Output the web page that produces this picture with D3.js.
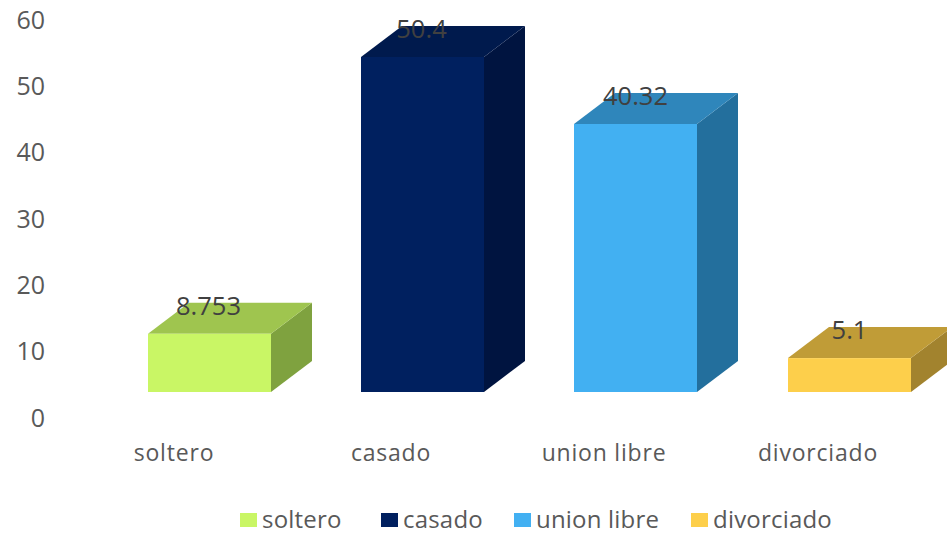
<!DOCTYPE html>
<html><head><meta charset="utf-8"><script src="https://cdn.jsdelivr.net/npm/d3@7/dist/d3.min.js"></script>
<style>html,body{margin:0;background:#fff}svg{display:block}text{font-family:"Open Sans",sans-serif}</style></head>
<body><script>
const categories = ["soltero","casado","union libre","divorciado"];
const values = [8.753,50.4,40.32,5.1];
const labels = ["8.753","50.4","40.32","5.1"];
const yTicks = [0,10,20,30,40,50,60];
const frontColors = ["#c9f665","#00205f","#42b0f2","#fdcf4b"];
const topColors = ["#9fc54f","#001a4d","#2f86bb","#c09c37"];
const sideColors = ["#7fa23f","#001440","#236f9d","#a2832e"];
const W=947,H=535;
const svg=d3.select("body").append("svg").attr("width",W).attr("height",H);
const tickY=d3.scaleLinear().domain([0,60]).range([418,20]);
const barBase=392, barY=d3.scaleLinear().domain([0,50.4]).range([barBase,57]);
const bw=123,dx=41,dy=31;
const xPos=d3.scaleOrdinal().domain(categories).range([148,361,574,788]);
svg.append("g").selectAll("text").data(yTicks).join("text").attr("x",45).attr("y",d=>tickY(d)).attr("dy","0.35em").attr("text-anchor","end").attr("font-size",25).attr("fill","#595959").text(d=>d);
const g=svg.selectAll("g.bar").data(categories).join("g").attr("class","bar");
g.each(function(c,i){
 const s=d3.select(this),l=xPos(c),t=barY(values[i]),r=l+bw;
 s.append("path").attr("d",`M${r},${t}L${r+dx},${t-dy}L${r+dx},${barBase-dy}L${r},${barBase}Z`).attr("fill",sideColors[i]);
 s.append("path").attr("d",`M${l},${t}L${l+dx},${t-dy}L${r+dx},${t-dy}L${r},${t}Z`).attr("fill",topColors[i]);
 s.append("rect").attr("x",l).attr("y",t).attr("width",bw).attr("height",barBase-t).attr("fill",frontColors[i]);
 s.append("text").attr("x",l+bw/2-(i==1?1:0)-(i==0?1:0)).attr("y",t-19).attr("text-anchor","middle").attr("font-size",25.5).attr("fill","#404040").text(labels[i]);
});
const catX=[174,391,604,818];
svg.selectAll("text.cat").data(categories).join("text").attr("class","cat").attr("x",(d,i)=>catX[i]).attr("y",461).attr("text-anchor","middle").attr("font-size",23).attr("letter-spacing",0.8).attr("fill","#595959").text(d=>d);
const legX=[240,381,514,691];
const lg=svg.selectAll("g.leg").data(categories).join("g").attr("class","leg").attr("transform",(d,i)=>`translate(${legX[i]},513)`);
lg.append("rect").attr("width",17).attr("height",14).attr("fill",(d,i)=>frontColors[i]);
lg.append("text").attr("x",22).attr("y",15).attr("font-size",24).attr("letter-spacing",0.2).attr("fill","#595959").text(d=>d);
</script></body></html>
